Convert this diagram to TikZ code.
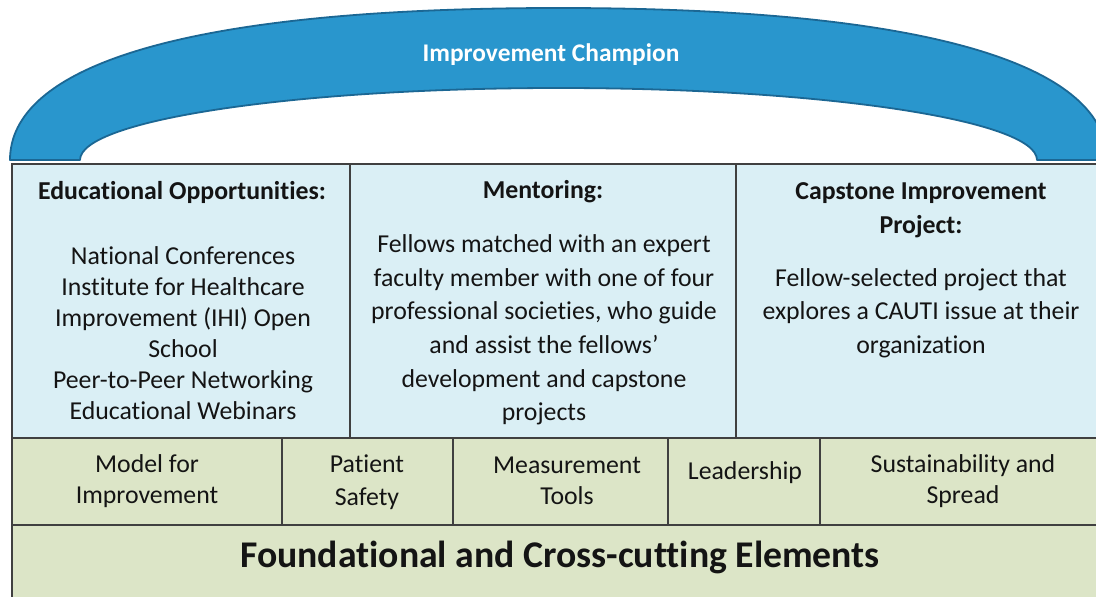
\documentclass[tikz,border=0pt]{standalone}
\usepackage{fontspec}
\setmainfont{Carlito}[Ligatures={NoCommon}]
\definecolor{archblue}{HTML}{2996CD}
\definecolor{archedge}{HTML}{1B6794}
\definecolor{topfill}{HTML}{DAEFF5}
\definecolor{basefill}{HTML}{DCE5C7}
\definecolor{rulegray}{HTML}{404040}
\definecolor{ink}{HTML}{141414}
\begin{document}
\begin{tikzpicture}[x=1pt,y=-1pt,
  cell/.style={draw=rulegray, line width=1.6pt},
  body/.style={font=\fontsize{25.8}{31}\selectfont, text=ink, align=center, inner sep=0pt},
  bodywide/.style={font=\fontsize{25.8}{33.6}\selectfont, text=ink, align=center, inner sep=0pt},
  head/.style={font=\bfseries\fontsize{25.8}{34}\selectfont, text=ink, align=center, inner sep=0pt},
  title/.style={font=\bfseries\fontsize{25.4}{30}\selectfont, text=white, inner sep=0pt},
  basetitle/.style={font=\bfseries\fontsize{37.7}{44}\selectfont, text=ink, inner sep=0pt}
]
\useasboundingbox (0,0) rectangle (1096,597);
\begin{scope}
\clip (0,0) rectangle (1096,597);

% arch: Improvement Champion
\path[fill=archblue, draw=archedge, line width=1.8pt, line join=round]
  (10,160) .. controls (10,69) and (174,8) .. (558.5,8)
           .. controls (943,8) and (1107,69) .. (1107,160)
  -- (1037,160)
           .. controls (1037,120) and (822,88) .. (558.5,88)
           .. controls (295,88) and (80,120) .. (80,160)
  -- cycle;
\node[title] (champ) at (551,55) {Improvement Champion};

% upper row of program components
\path[cell, fill=topfill] (12,164) rectangle (350,438);
\path[cell, fill=topfill] (350,164) rectangle (736,438);
\path[cell, fill=topfill] (736,164) rectangle (1107,438);

% middle row of foundational topics
\path[cell, fill=basefill] (12,438) rectangle (282,525);
\path[cell, fill=basefill] (282,438) rectangle (453,525);
\path[cell, fill=basefill] (453,438) rectangle (668,525);
\path[cell, fill=basefill] (668,438) rectangle (820,525);
\path[cell, fill=basefill] (820,438) rectangle (1107,525);

% base row
\path[cell, fill=basefill] (12,525) rectangle (1107,640);

% upper row text
\node[head] (eduhead) at (182,192) {Educational Opportunities:};
\node[body] (edulist) at (183,333) {National Conferences\\Institute for Healthcare\\Improvement (IHI) Open\\School\\Peer-to-Peer Networking\\Educational Webinars};

\node[head] (menhead) at (543,192) {Mentoring:};
\node[bodywide] (menbody) at (544,330) {Fellows matched with an expert\\faculty member with one of four\\professional societies, who guide\\and assist the fellows’\\development and capstone\\projects};

\node[head] (caphead) at (921,210) {Capstone Improvement\\Project:};
\node[bodywide] (capbody) at (921,313) {Fellow-selected project that\\explores a CAUTI issue at their\\organization};

% middle row text
\node[body] (model) at (147,481) {Model for\\Improvement};
\node[bodywide] (safety) at (367,482) {Patient\\Safety};
\node[body] (measure) at (567,481) {Measurement\\Tools};
\node[body] (lead) at (745,473) {Leadership};
\node[body] (sustain) at (963,481) {Sustainability and\\Spread};

% base row text
\node[basetitle] (found) at (560,557) {Foundational and Cross-cutting Elements};
\end{scope}
\end{tikzpicture}
\end{document}
